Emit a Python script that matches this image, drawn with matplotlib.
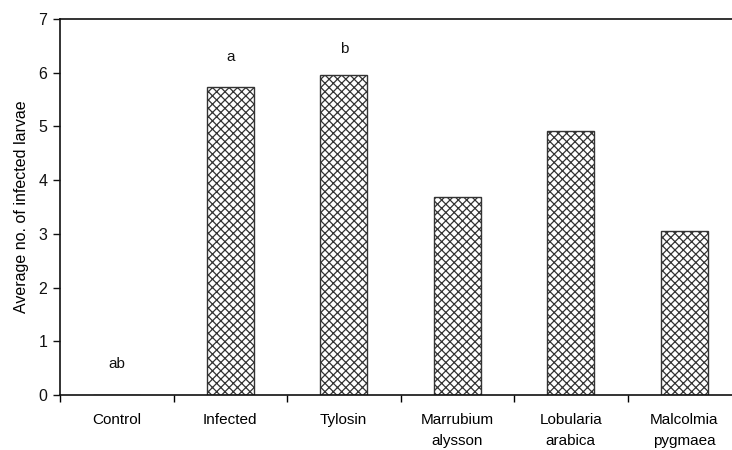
import matplotlib
matplotlib.use("Agg")
import matplotlib.pyplot as plt
import numpy as np

categories = ["Control", "Infected", "Tylosin", "Marrubium\nalysson", "Lobularia\narabica", "Malcolmia\npygmaea"]
values = [0.0, 5.73, 5.95, 3.68, 4.92, 3.05]
letters = ["ab", "a", "b", "", "", ""]
letter_y = [0.58, 6.3, 6.45, 0, 0, 0]

plt.rcParams["font.family"] = ["Liberation Sans", "DejaVu Sans"]
plt.rcParams["hatch.linewidth"] = 0.9
plt.rcParams["hatch.color"] = "#222222"

fig = plt.figure(figsize=(7.32, 4.5), dpi=100)
ax = fig.add_axes([60 / 732, 1 - 395 / 450, 681 / 732, 376 / 450])

x = np.arange(len(categories))
ax.bar(x, values, width=0.41, color="white", edgecolor="#333333",
       hatch="xxxx", linewidth=1.0)

for xi, t, ty in zip(x, letters, letter_y):
    if t:
        ax.text(xi, ty, t, ha="center", va="center", fontsize=11, color="#111111")

ax.set_xlim(-0.5, len(categories) - 0.5)
ax.set_ylim(0, 7)
ax.set_yticks(range(0, 8))
ax.tick_params(axis="y", labelsize=11.5, length=5, width=1, pad=4, colors="#111111")

# category boundaries get the tick marks, labels sit at centres
ax.set_xticks(np.arange(-0.5, len(categories), 1.0))
ax.set_xticklabels([])
ax.set_xticks(x, minor=True)
ax.set_xticklabels(categories, minor=True, fontsize=11, linespacing=1.65)
ax.tick_params(axis="x", which="major", length=5, width=1, direction="out")
ax.tick_params(axis="x", which="minor", length=0, pad=13)

ax.set_ylabel("Average no. of infected larvae", fontsize=11.5, labelpad=7)

for s in ax.spines.values():
    s.set_linewidth(1.2)
    s.set_color("#111111")

fig.savefig("out.png", dpi=100)
